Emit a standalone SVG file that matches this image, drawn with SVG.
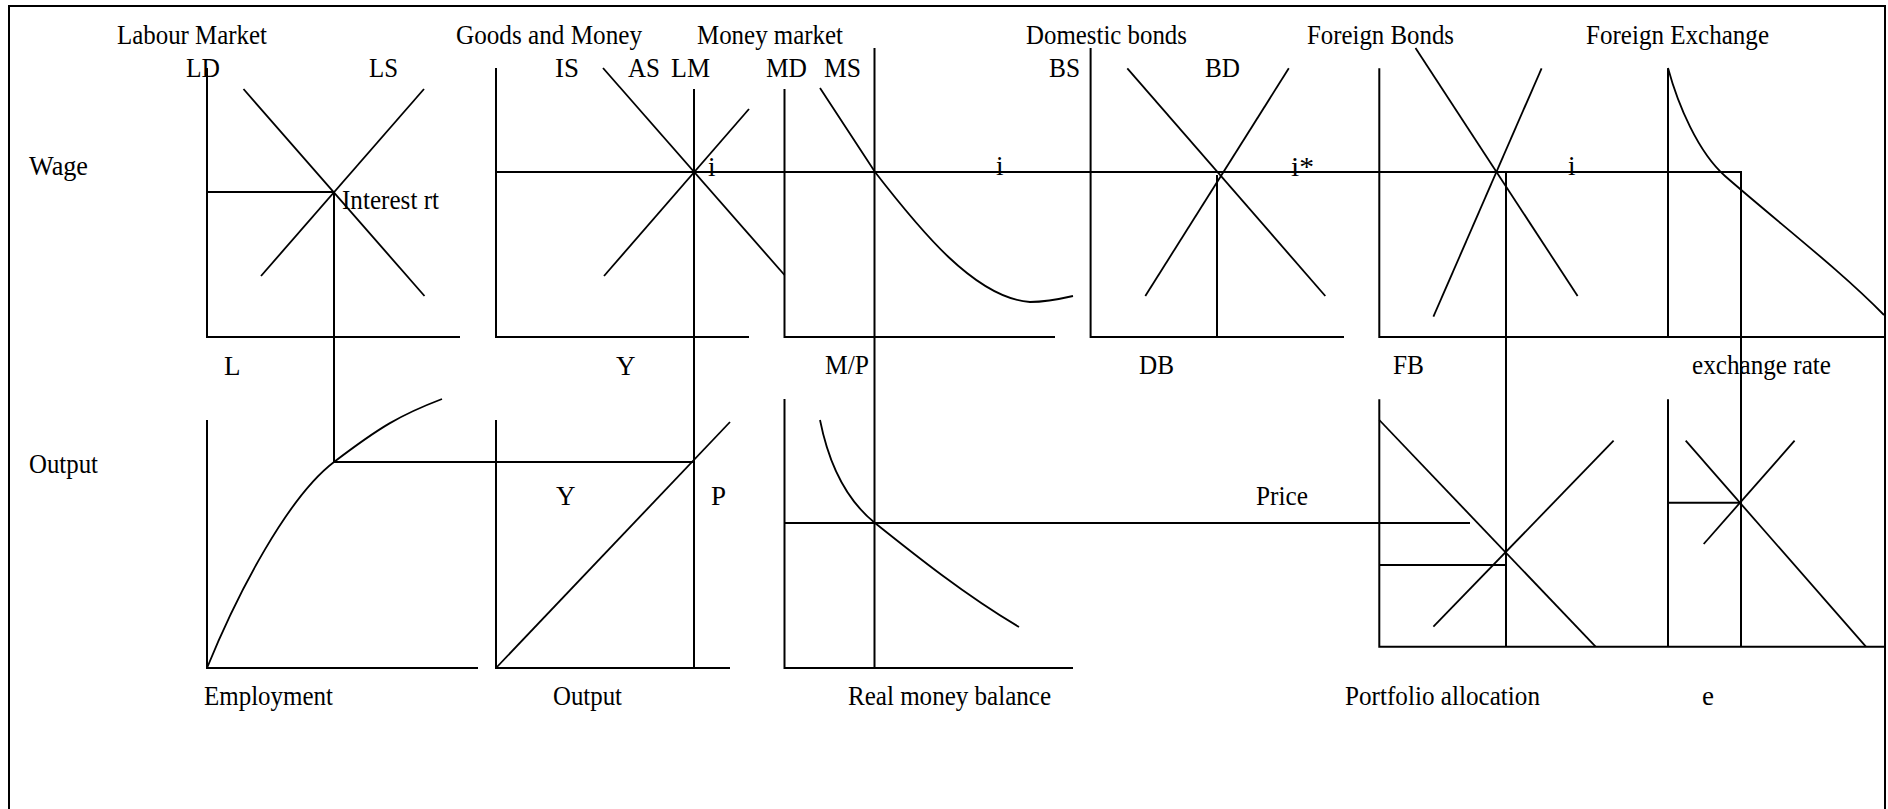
<svg xmlns="http://www.w3.org/2000/svg" width="1888" height="809" viewBox="0 0 1888 809">
<style>
.ax{stroke:#000;stroke-width:2;fill:none}
.cv{stroke:#000;stroke-width:1.8;fill:none}
.t{font-family:"Liberation Serif","Times New Roman",serif;font-size:27px;fill:#000}
</style>
<rect width="1888" height="809" fill="#fff"/>
<path id="frame" class="ax" d="M9,809 V6 H1885 V809"/>

<g id="labels">
<text class="t" x="117" y="44" textLength="150" lengthAdjust="spacingAndGlyphs">Labour Market</text>
<text class="t" x="456" y="44" textLength="186" lengthAdjust="spacingAndGlyphs">Goods and Money</text>
<text class="t" x="697" y="44" textLength="146" lengthAdjust="spacingAndGlyphs">Money market</text>
<text class="t" x="1026" y="44" textLength="161" lengthAdjust="spacingAndGlyphs">Domestic bonds</text>
<text class="t" x="1307" y="44" textLength="147" lengthAdjust="spacingAndGlyphs">Foreign Bonds</text>
<text class="t" x="1586" y="44" textLength="183" lengthAdjust="spacingAndGlyphs">Foreign Exchange</text>
<text class="t" x="29" y="175" textLength="59" lengthAdjust="spacingAndGlyphs">Wage</text>
<text class="t" x="29" y="473" textLength="69" lengthAdjust="spacingAndGlyphs">Output</text>
</g>

<g id="labour-market">
<path class="ax" d="M207,68 V337 H460"/>
<line class="cv" x1="243.5" y1="89" x2="424.5" y2="296"/>
<line class="cv" x1="261" y1="276" x2="424" y2="89"/>
<path class="ax" d="M207,192 H334"/>
<text class="t" x="186" y="77" textLength="34" lengthAdjust="spacingAndGlyphs">LD</text>
<text class="t" x="369" y="77" textLength="29" lengthAdjust="spacingAndGlyphs">LS</text>
<text class="t" x="342" y="209" textLength="97" lengthAdjust="spacingAndGlyphs">Interest rt</text>
<text class="t" x="224" y="375">L</text>
</g>

<g id="production">
<path class="ax" d="M207,420 V668 H478"/>
<path class="cv" d="M207,668 C238,592 288,497 334,462 S400,415 442,399"/>
<text class="t" x="204" y="705" textLength="129" lengthAdjust="spacingAndGlyphs">Employment</text>
</g>

<g id="goods-money">
<path class="ax" d="M496,68 V337 H749"/>
<line class="cv" x1="603" y1="68" x2="784.5" y2="275"/>
<line class="cv" x1="604" y1="276" x2="749" y2="109"/>
<text class="t" x="555" y="77" textLength="24" lengthAdjust="spacingAndGlyphs">IS</text>
<text class="t" x="628" y="77" textLength="32" lengthAdjust="spacingAndGlyphs">AS</text>
<text class="t" x="671" y="77" textLength="39" lengthAdjust="spacingAndGlyphs">LM</text>
<text class="t" x="708" y="176">i</text>
<text class="t" x="616" y="375">Y</text>
</g>

<g id="output-price">
<path class="ax" d="M496,420 V668 H730"/>
<line class="cv" x1="496" y1="668" x2="730" y2="422"/>
<text class="t" x="556" y="505">Y</text>
<text class="t" x="711" y="505">P</text>
<text class="t" x="553" y="705" textLength="69" lengthAdjust="spacingAndGlyphs">Output</text>
</g>

<g id="money-market">
<path class="ax" d="M784.5,89 V337 H1055"/>
<path class="cv" d="M820,88 L875,172 C920,230 975,298 1030,302 C1045,302 1060,299 1073,296"/>
<text class="t" x="766" y="77" textLength="41" lengthAdjust="spacingAndGlyphs">MD</text>
<text class="t" x="824" y="77" textLength="37" lengthAdjust="spacingAndGlyphs">MS</text>
<text class="t" x="996" y="175">i</text>
<text class="t" x="825" y="374" textLength="44" lengthAdjust="spacingAndGlyphs">M/P</text>
</g>

<g id="real-money">
<path class="ax" d="M784.5,399 V668 H1073"/>
<path class="cv" d="M820,420 C830,470 850,503 875,523 C915,555 965,595 1019,627"/>
<text class="t" x="848" y="705" textLength="203" lengthAdjust="spacingAndGlyphs">Real money balance</text>
</g>

<g id="domestic-bonds">
<path class="ax" d="M1090.6,48 V337 H1344"/>
<line class="cv" x1="1127.3" y1="68.3" x2="1325.3" y2="296"/>
<line class="cv" x1="1145.3" y1="296" x2="1288.8" y2="68.3"/>
<line class="ax" x1="1217" y1="175" x2="1217" y2="337"/>
<text class="t" x="1049" y="77" textLength="31" lengthAdjust="spacingAndGlyphs">BS</text>
<text class="t" x="1205" y="77" textLength="35" lengthAdjust="spacingAndGlyphs">BD</text>
<text class="t" x="1291" y="176" textLength="23" lengthAdjust="spacingAndGlyphs">i*</text>
<text class="t" x="1139" y="374" textLength="35" lengthAdjust="spacingAndGlyphs">DB</text>
</g>

<g id="foreign-bonds">
<path class="ax" d="M1379.3,68.3 V337 H1885"/>
<line class="cv" x1="1415.5" y1="48" x2="1577.6" y2="296"/>
<line class="cv" x1="1433.4" y1="316.7" x2="1541.6" y2="68.3"/>
<text class="t" x="1568" y="175">i</text>
<text class="t" x="1393" y="374" textLength="31" lengthAdjust="spacingAndGlyphs">FB</text>
</g>

<g id="foreign-exchange">
<line class="ax" x1="1668" y1="68.3" x2="1668" y2="337"/>
<path class="cv" d="M1668,68 C1678,105 1698,152 1725,176 C1780,224 1840,270 1884,315"/>
<text class="t" x="1692" y="374" textLength="139" lengthAdjust="spacingAndGlyphs">exchange rate</text>
</g>

<g id="portfolio-allocation">
<path class="ax" d="M1379.3,399.3 V646.7 H1885"/>
<line class="cv" x1="1379.3" y1="420" x2="1595.6" y2="646.7"/>
<line class="cv" x1="1433.4" y1="626.7" x2="1613.6" y2="440.7"/>
<path class="ax" d="M1379.3,565 H1506"/>
<text class="t" x="1256" y="505" textLength="52" lengthAdjust="spacingAndGlyphs">Price</text>
<text class="t" x="1345" y="705" textLength="195" lengthAdjust="spacingAndGlyphs">Portfolio allocation</text>
</g>

<g id="exchange-rate-e">
<line class="ax" x1="1668" y1="399.3" x2="1668" y2="646.7"/>
<line class="cv" x1="1685.7" y1="440.7" x2="1865.9" y2="646.7"/>
<line class="cv" x1="1703.7" y1="544" x2="1794.6" y2="440.7"/>
<path class="ax" d="M1668,502.7 H1741"/>
<text class="t" x="1702" y="705">e</text>
</g>

<g id="connectors">
<path class="ax" d="M496,172 H1741 V647"/>
<path class="ax" d="M334,192 V462 H694"/>
<line class="ax" x1="694" y1="89" x2="694" y2="668"/>
<line class="ax" x1="874.5" y1="48" x2="874.5" y2="668"/>
<line class="ax" x1="784.5" y1="523" x2="1470" y2="523"/>
<line class="ax" x1="1506" y1="172" x2="1506" y2="647"/>
</g>
</svg>
